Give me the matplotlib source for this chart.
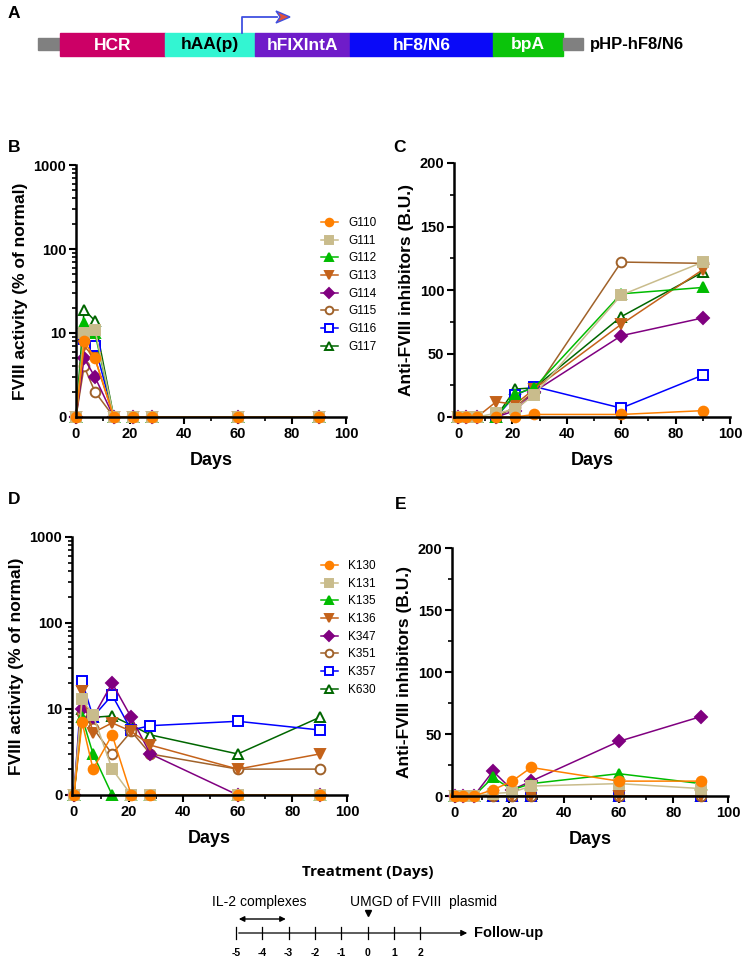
import numpy as np
import matplotlib
matplotlib.use("Agg")
import matplotlib.pyplot as plt
from matplotlib.ticker import FixedLocator, FixedFormatter, MultipleLocator, NullFormatter
from matplotlib.patches import Rectangle, Polygon

plt.rcParams['font.family'] = ['Liberation Sans', 'DejaVu Sans']

# ---------------- data ----------------
days = [0, 3, 7, 14, 21, 28, 60, 90]

g_names = ["G110", "G111", "G112", "G113", "G114", "G115", "G116", "G117"]
k_names = ["K130", "K131", "K135", "K136", "K347", "K351", "K357", "K630"]

# Panel B: FVIII activity (% of normal), G group
b_G110 = [0, 8, 5, 0, 0, 0, 0, 0]
b_G111 = [0, 10, 11, 0, 0, 0, 0, 0]
b_G112 = [0, 13, 10, 0, 0, 0, 0, 0]
b_G113 = [0, 7, 5, 0, 0, 0, 0, 0]
b_G114 = [0, 5, 3, 0, 0, 0, 0, 0]
b_G115 = [0, 4, 2, 0, 0, 0, 0, 0]
b_G116 = [0, 8.5, 7, 0, 0, 0, 0, 0]
b_G117 = [0, 19, 14, 0, 0, 0, 0, 0]

# Panel C: anti-FVIII inhibitors (B.U.), G group
c_G110 = [0, 0, 0, 0, 0, 2, 2, 5]
c_G111 = [0, 0, 0, 3, 6, 17.5, 96, 122]
c_G112 = [0, 0, 0, 0, 18, 23, 97, 102]
c_G113 = [0, 0, 0, 12, 10, 22, 73, 116]
c_G114 = [0, 0, 0, 0, 5, 20, 64, 78]
c_G115 = [0, 0, 0, 0, 8, 20, 122, 121]
c_G116 = [0, 0, 0, 0, 17, 24, 7, 33]
c_G117 = [0, 0, 0, 0, 22, 23, 79, 114]

# Panel D: FVIII activity (% of normal), K group
d_K130 = [0, 7, 2, 5, 0, 0, 0, 0]
d_K131 = [0, 13, 8.5, 2, 0, 0, 0, 0]
d_K135 = [0, 8, 3, 0, 0, 0, 0, 0]
d_K136 = [0, 16, 5.3, 6.9, 5.5, 3.8, 2, 3]
d_K347 = [0, 10, 8, 20, 8, 3, 0, 0]
d_K351 = [0, 9, 6, 3, 5.5, 3, 2, 2]
d_K357 = [0, 21, 8.1, 14.5, 5.7, 6.4, 7.2, 5.7]
d_K630 = [0, 10, 8, 8.3, 6.5, 5, 3, 8]

# Panel E: anti-FVIII inhibitors (B.U.), K group
e_K130 = [0, 0, 0, 5, 12, 23, 12, 12]
e_K131 = [0, 0, 0, 2, 3, 8, 10, 6]
e_K135 = [0, 0, 0, 15, 5, 10, 18, 10]
e_K136 = [0, 0, 0, 0, 0, 0, 0, 0]
e_K347 = [0, 0, 0, 20, 5, 12, 44, 64]
e_K351 = [0, 0, 0, 0, 0, 0, 0, 0]
e_K357 = [0, 0, 0, 0, 0, 0, 0, 0]
e_K630 = [0, 0, 0, 0, 0, 0, 0, 0]

log_ticks = [1, 10, 100, 1000]
log_tick_labels = ["0", "10", "100", "1000"]

# construct elements (panel A)
gene_labels = ["HCR", "hAA(p)", "hFIXIntA", "hF8/N6", "bpA"]
gene_lengths = [105, 90, 95, 143, 70]
construct_name = "pHP-hF8/N6"

# treatment timeline
timeline_days = [-5, -4, -3, -2, -1, 0, 1, 2]

# ---------------- styles ----------------
ORANGE = "#FF8000"
TAN = "#C9BC8C"
GREEN = "#00BB00"
K136C = "#C4621A"
PURPLE = "#800080"
BROWN = "#A0622A"
BLUE = "#0000FF"
DKGREEN = "#006600"

g_styles = [("o", ORANGE, True), ("s", TAN, True), ("^", GREEN, True), ("v", K136C, True),
            ("D", PURPLE, True), ("o", BROWN, False), ("s", BLUE, False), ("^", DKGREEN, False)]
k_styles = [("o", ORANGE, True), ("s", TAN, True), ("^", GREEN, True), ("v", K136C, True),
            ("D", PURPLE, True), ("o", BROWN, False), ("s", BLUE, False), ("^", DKGREEN, False)]

fig = plt.figure(figsize=(7.44, 9.61), dpi=100)
W, H = 744, 961


def px_axes(x0, y0, x1, y1):
    return fig.add_axes([x0 / W, 1 - y1 / H, (x1 - x0) / W, (y1 - y0) / H])


def style_axes(ax):
    for s in ["top", "right"]:
        ax.spines[s].set_visible(False)
    for s in ["left", "bottom"]:
        ax.spines[s].set_linewidth(1.8)
    ax.tick_params(which="major", width=1.5, length=5, labelsize=10.5, pad=2)
    ax.tick_params(which="minor", width=1.2, length=3)
    for lab in ax.get_xticklabels() + ax.get_yticklabels():
        lab.set_fontweight("bold")
    ax.set_xlabel("Days", fontsize=13, fontweight="bold", labelpad=8)
    ax.xaxis.set_major_locator(MultipleLocator(20))
    ax.xaxis.set_minor_locator(MultipleLocator(10))
    ax.patch.set_alpha(0)


def plot_series(ax, series, names, styles, log=False):
    handles = []
    for vals, name, (m, c, filled) in reversed(list(zip(series, names, styles))):
        v = np.array(vals, dtype=float)
        if log:
            v = np.where(v <= 0, 1.0, v)
        ms = 7 if m != "D" else 6
        h, = ax.plot(days, v, marker=m, color=c, lw=1.1, ms=ms,
                     mfc=c if filled else "white", mec=c, mew=1.4, label=name,
                     clip_on=False)
        handles.append(h)
    return handles[::-1]


def log_axis(ax):
    ax.set_yscale("log")
    ax.set_ylim(1, 1000)
    ax.yaxis.set_major_locator(FixedLocator(log_ticks))
    ax.yaxis.set_major_formatter(FixedFormatter(log_tick_labels))
    minors = [m * 10 ** e for e in range(0, 3) for m in range(2, 10)]
    ax.yaxis.set_minor_locator(FixedLocator(minors))
    ax.yaxis.set_minor_formatter(NullFormatter())
    ax.set_ylabel("FVIII activity (% of normal)", fontsize=12.5, fontweight="bold", labelpad=4)


def lin_axis(ax):
    ax.set_ylim(0, 200)
    ax.yaxis.set_major_locator(MultipleLocator(50))
    ax.yaxis.set_minor_locator(MultipleLocator(25))
    ax.set_ylabel("Anti-FVIII inhibitors (B.U.)", fontsize=12.5, fontweight="bold", labelpad=4)


# Panel B
axB = px_axes(76, 165, 346, 417)
hB = plot_series(axB, [b_G110, b_G111, b_G112, b_G113, b_G114, b_G115, b_G116, b_G117],
                 g_names, g_styles, log=True)
log_axis(axB)
axB.set_xlim(0, 100)
style_axes(axB)

# Panel C
axC = px_axes(454, 163, 730, 417)
plot_series(axC, [c_G110, c_G111, c_G112, c_G113, c_G114, c_G115, c_G116, c_G117],
            g_names, g_styles)
lin_axis(axC)
axC.set_xlim(-1.5, 100)
style_axes(axC)

# Panel D
axD = px_axes(72, 537, 347, 795)
hD = plot_series(axD, [d_K130, d_K131, d_K135, d_K136, d_K347, d_K351, d_K357, d_K630],
                 k_names, k_styles, log=True)
log_axis(axD)
axD.set_xlim(-0.7, 100)
style_axes(axD)

# Panel E
axE = px_axes(452, 548, 728, 796)
plot_series(axE, [e_K130, e_K131, e_K135, e_K136, e_K347, e_K351, e_K357, e_K630],
            k_names, k_styles)
lin_axis(axE)
axE.set_xlim(-1, 100)
style_axes(axE)

leg_kw = dict(frameon=False, fontsize=8.5, handlelength=1.4, handletextpad=0.9,
              labelspacing=0.48, borderpad=0, borderaxespad=0, loc="upper left")
fig.legend(handles=hB, labels=g_names, bbox_to_anchor=(321 / W, 1 - 217 / H), **leg_kw)
fig.legend(handles=hD, labels=k_names, bbox_to_anchor=(321 / W, 1 - 560 / H), **leg_kw)
for leg in fig.legends:
    for h in leg.legend_handles:
        h.set_markersize(5.5)

# Panel letters
for letter, (x, y) in zip("ABCDE", [(8, 14), (8, 148), (393, 148), (8, 500), (395, 505)]):
    fig.text(x / W, 1 - y / H, letter, fontsize=12.5, fontweight="bold", va="center", ha="left")

# Overlay for diagrams
ov = fig.add_axes([0, 0, 1, 1], zorder=-5)
ov.set_xlim(0, W)
ov.set_ylim(H, 0)
ov.axis("off")

# Panel A construct
gene_colors = ["#CC0066", "#33F5D2", "#6F1CC9", "#0A0AF8", "#0BC40B"]
gene_text_colors = ["white", "black", "white", "white", "white"]
x = 60
ov.add_patch(Rectangle((38, 38), 22, 12, color="#808080"))
for lab, ln, col, tc in zip(gene_labels, gene_lengths, gene_colors, gene_text_colors):
    ov.add_patch(Rectangle((x, 33), ln, 23, color=col))
    ov.text(x + ln / 2, 45, lab, color=tc, fontsize=12.5, fontweight="bold", ha="center", va="center")
    x += ln
ov.add_patch(Rectangle((x, 38), 20, 12, color="#808080"))
ov.text(x + 27, 45, construct_name, fontsize=12, fontweight="bold", ha="left", va="center")
# promoter arrow
ov.plot([242, 242, 277], [33, 17, 17], color="#4050E0", lw=1.3)
ov.add_patch(Polygon([[276, 11], [290, 17], [276, 23], [280, 17]], closed=True,
                     facecolor="#E0503A", edgecolor="#4050E0", lw=1))

# Timeline
t0, step, ty = 236, 26.3, 933
ov.text(368, 872, "Treatment (Days)", fontsize=11, fontweight="bold", ha="center", va="center",
        family=["Open Sans", "DejaVu Sans"])
ov.text(259, 902, "IL-2 complexes", fontsize=10, ha="center", va="center")
ov.text(424, 902, "UMGD of FVIII  plasmid", fontsize=10, ha="center", va="center")
ov.annotate("", xy=(t0, 919), xytext=(t0 + 2 * step, 919),
            arrowprops=dict(arrowstyle="<|-|>", color="black", lw=1, mutation_scale=8))
ov.plot([t0 + 5 * step], [913], marker="v", color="black", ms=5)
ov.annotate("", xy=(470, ty), xytext=(t0, ty),
            arrowprops=dict(arrowstyle="-|>", color="black", lw=0.9, mutation_scale=9))
for i, d in enumerate(timeline_days):
    xx = t0 + i * step
    ov.plot([xx, xx], [ty - 6, ty + 6], color="black", lw=0.9)
    ov.text(xx, 953, str(d), fontsize=7.5, fontweight="bold", ha="center", va="center")
ov.text(474, ty, "Follow-up", fontsize=10.5, fontweight="bold", ha="left", va="center")

fig.savefig("out.png", dpi=100)
